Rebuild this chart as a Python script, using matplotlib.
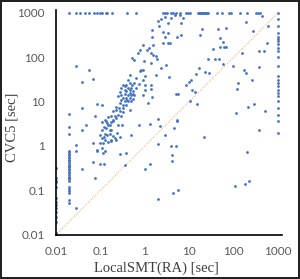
import numpy as np
import matplotlib.pyplot as plt

# timeouts of CVC5 (row at 1000 sec)
top_local = [0.02, 0.028, 0.035, 0.044, 0.054, 0.073, 0.084, 0.096, 0.11, 0.13, 0.14, 0.18,
             0.39, 0.62, 2.5, 2.8, 3.2, 3.9, 4.2, 5.1, 6.3, 8.3, 9.2, 10.6, 15.5, 16.2, 17,
             18.7, 19.4, 20, 21, 22, 23, 24, 25, 26, 41, 53, 78, 86, 137, 195, 316, 350, 390]

# timeouts of LocalSMT(RA) (column at 1000 sec)
right_cvc5 = [1000, 730, 495, 350, 280, 260, 227, 197, 160, 135, 99, 62, 37, 31, 26, 22,
              18.4, 15.5, 13, 10, 7.1, 4.9, 3.7, 2.0]

# columns at 0.01 and 0.02 sec
left_cvc5 = [0.32, 0.19, 0.16, 0.15, 0.12, 0.067, 0.054, 0.047, 0.040, 0.032, 0.025,
             0.019, 0.011, 0.01]
col02_cvc5 = [5.2, 2.6, 1.9, 0.77, 0.71, 0.66, 0.61, 0.56, 0.52, 0.48, 0.45, 0.41, 0.38,
              0.35, 0.33, 0.30, 0.28, 0.26, 0.24, 0.22, 0.20, 0.19, 0.175, 0.16, 0.12,
              0.107, 0.096, 0.087, 0.061, 0.052]

# the rest of the instances (LocalSMT, CVC5)
other = [
    (0.028, 64), (0.056, 52), (0.038, 28), (0.067, 32), (0.085, 8.9), (0.11, 8.4),
    (0.038, 7.1), (0.076, 4.8), (0.15, 4.4), (0.134, 3.7),
    (0.90, 190), (1.23, 160), (1.11, 147), (0.785, 147), (0.70, 123), (0.52, 98),
    (0.58, 87), (0.93, 83), (0.83, 52), (0.79, 48), (0.90, 52), (1.03, 37), (0.64, 34),
    (0.45, 40), (0.41, 31), (0.90, 31), (0.73, 25), (0.58, 26), (0.47, 26), (1.03, 24),
    (0.38, 24), (0.32, 23), (0.29, 20), (0.35, 18.4), (0.41, 20), (0.49, 20), (0.62, 20),
    (0.54, 16.8), (0.38, 16.8), (0.45, 15.5), (0.98, 18.4), (0.27, 16.3), (0.35, 14.7),
    (0.41, 13.7), (0.49, 13.7), (0.58, 13.7), (0.25, 13), (0.32, 12.3), (0.38, 11.9),
    (0.45, 12.3), (0.54, 11.5), (0.29, 10.9), (0.35, 10), (0.41, 10.4), (0.49, 10),
    (0.90, 13.7), (0.27, 9.2), (0.32, 8.4), (0.38, 8.4), (0.22, 7.7), (0.26, 7.3),
    (0.32, 7.1), (1.17, 9.2), (0.225, 6.5), (0.27, 6.0), (0.19, 6.0), (0.32, 5.8),
    (0.25, 5.0), (0.21, 4.8), (0.29, 4.8), (0.17, 4.6), (0.225, 4.2), (0.45, 6.5),
    (0.19, 3.7), (0.35, 22), (0.52, 23), (0.55, 14.7), (0.47, 18.4), (0.39, 10.9),
    (0.29, 13.7),
    (1.97, 660), (2.3, 710), (2.8, 785), (3.3, 595), (3.9, 745), (4.7, 885), (6.3, 885),
    (7.2, 745), (6.6, 575), (1.47, 405), (2.07, 500), (2.6, 373), (3.3, 342), (2.8, 288),
    (5.3, 278), (6.6, 314), (2.55, 204), (3.3, 211), (3.7, 211), (1.52, 187), (1.47, 288),
    (1.39, 121), (1.52, 111), (1.8, 105), (1.87, 89), (1.39, 74), (3.0, 66), (2.3, 56),
    (1.74, 39), (3.5, 36), (1.39, 23), (1.39, 18.7), (1.47, 12.8), (19.7, 420),
    (17.7, 314), (44, 420), (66, 443), (50, 264), (56, 222), (34, 149), (50, 165),
    (60, 171), (66, 171), (26, 93), (37, 93), (47, 93), (58, 70), (94, 63), (16.6, 56),
    (14.4, 41), (23, 47), (28, 43), (11.1, 31), (9.8, 28), (8.6, 23), (11.7, 18),
    (13.2, 16.5), (5.1, 14.7), (5.6, 14.7), (10.5, 10.4), (14.9, 8.7), (157, 125),
    (187, 627), (273, 393), (373, 139), (475, 139), (566, 211), (596, 500), (422, 841),
    (373, 61), (168, 51), (187, 43), (264, 30), (125, 26), (119, 19.6), (211, 7.6),
    (283, 8.7), (500, 6.2), (115, 5.4), (5.3, 3.9), (1.97, 4.1),
    (0.047, 3.0), (0.038, 2.3), (0.028, 1.04), (0.028, 0.78), (0.038, 0.30),
    (0.028, 0.039), (0.067, 1.14), (0.067, 0.44), (0.076, 0.185), (0.085, 0.78),
    (0.098, 0.40), (0.117, 0.40), (0.107, 3.5), (0.127, 3.8), (0.139, 3.2), (0.117, 2.7),
    (0.134, 2.5), (0.151, 3.0), (0.165, 2.3), (0.107, 2.3), (0.127, 1.9), (0.139, 1.76),
    (0.16, 1.9), (0.117, 1.6), (0.098, 1.76), (0.107, 1.48), (0.127, 1.36), (0.151, 1.24),
    (0.113, 1.14), (0.095, 1.14), (0.082, 0.81), (0.107, 0.88), (0.127, 0.78),
    (0.113, 0.68), (0.17, 1.31),
    (0.174, 3.5), (0.196, 3.8), (0.16, 3.0), (0.246, 3.0), (0.31, 3.0), (0.73, 3.0),
    (1.27, 3.1), (2.2, 2.8), (2.9, 1.76), (0.174, 2.3), (0.23, 2.0), (0.27, 1.6),
    (0.21, 1.48), (0.19, 1.67), (0.22, 1.36), (0.174, 1.36), (0.49, 1.76), (1.96, 1.1),
    (0.28, 0.65), (0.37, 0.68), (0.35, 0.37), (0.98, 0.30), (1.32, 0.39), (1.96, 0.065),
    (5.4, 3.7), (4.5, 2.5), (21, 1.6), (3.8, 1.0), (5.1, 1.0), (4.1, 0.62), (4.0, 0.46),
    (5.6, 0.104), (4.3, 0.088),
    (361, 2.3), (197, 0.74), (223, 0.16), (175, 0.138), (108, 0.124),
]

ticks = [0.01, 0.1, 1, 10, 100, 1000]
tick_labels = ['0.01', '0.1', '1', '10', '100', '1000']
diag = [0.01, 1000]

local = np.concatenate([top_local, np.full(len(right_cvc5), 1000.0),
                        np.full(len(left_cvc5), 0.01), np.full(len(col02_cvc5), 0.02),
                        [p[0] for p in other]])
cvc5 = np.concatenate([np.full(len(top_local), 1000.0), right_cvc5, left_cvc5, col02_cvc5,
                       [p[1] for p in other]])

fig = plt.figure(figsize=(3.0, 2.79), dpi=100)
fig.patch.set_edgecolor('#222222')
fig.patch.set_linewidth(1.5)
ax = fig.add_axes([0.187, 0.159, 0.753, 0.805])

ax.plot(diag, diag, color='#F4A874', linewidth=0.7, dashes=(1, 1.2), zorder=1)
ax.scatter(local, cvc5, s=4, color='#4472C4', linewidths=0, zorder=2)

ax.set_xscale('log')
ax.set_yscale('log')
ax.set_xlim(0.01, 1220)
ax.set_ylim(0.01, 1150)
ax.set_xticks(ticks)
ax.set_xticklabels(tick_labels)
ax.set_yticks(ticks)
ax.set_yticklabels(tick_labels)
ax.minorticks_off()
ax.tick_params(length=0, pad=8, labelsize=8.5, labelcolor='#595959')
for lab in ax.get_xticklabels() + ax.get_yticklabels():
    lab.set_family('Lato')

for s in ['top', 'right']:
    ax.spines[s].set_visible(False)
for s in ['left', 'bottom']:
    ax.spines[s].set_linewidth(1.2)
    ax.spines[s].set_color('black')

ax.set_xlabel('LocalSMT(RA) [sec]', family='Liberation Serif', fontsize=10.5, color='#404040')
ax.set_ylabel('CVC5 [sec]', family='Liberation Serif', fontsize=10.5, color='#404040')
ax.xaxis.set_label_coords(0.445, -0.119)
ax.yaxis.set_label_coords(-0.165, 0.48)

fig.savefig('out.png', dpi=100, edgecolor=fig.get_edgecolor())
